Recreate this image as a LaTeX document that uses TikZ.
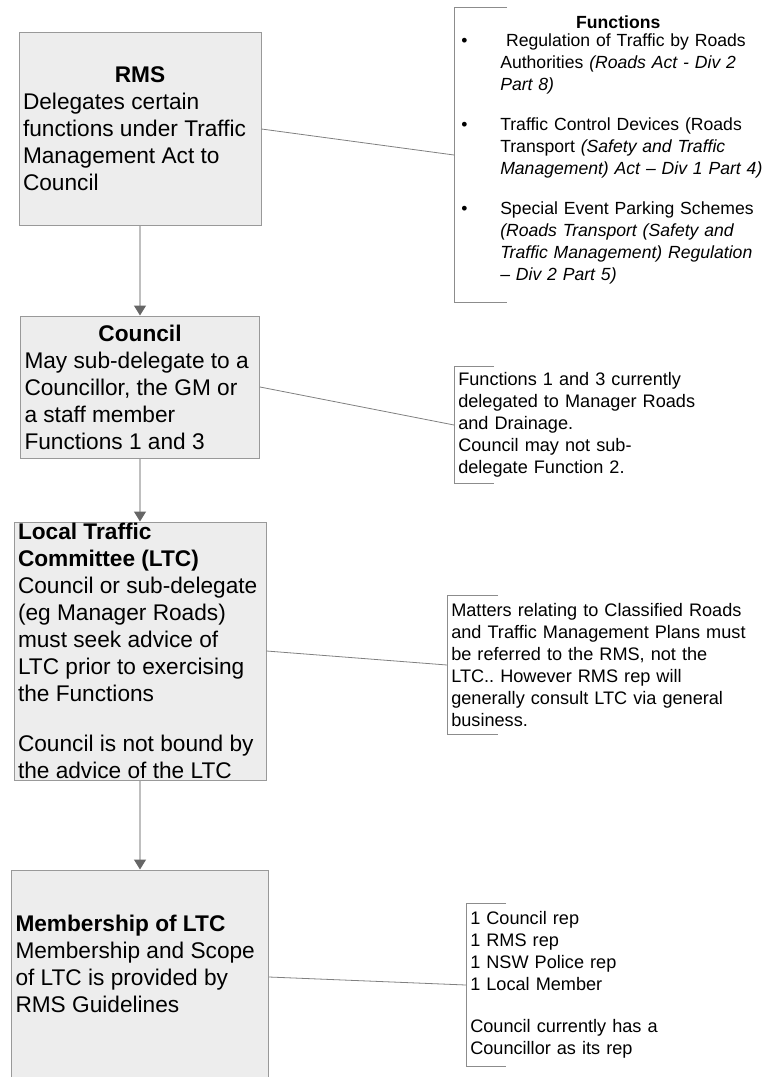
\documentclass[tikz,border=0pt]{standalone}
\usepackage{fontspec}
\setmainfont{Liberation Sans}
\usepackage{tikz}
\usetikzlibrary{arrows.meta, positioning}
\frenchspacing

\newcommand{\boxbody}[3]{\parbox[c][#1][c]{#2}{\fontsize{17pt}{20.25pt}\selectfont\raggedright #3}}

\begin{document}
\begin{tikzpicture}[
    x=0.75pt, y=-0.75pt,
    node distance = 67.5pt,
    box/.style = {rectangle, draw=black!40, line width=0.75pt, fill=black!7,
                  inner xsep=3pt, inner ysep=0pt},
    note/.style = {rectangle, anchor=west, inner sep=3pt, align=left,
                   font=\fontsize{13.6pt}{16.5pt}\selectfont},
    bracket/.style = {draw=black!45, line width=0.75pt},
    link/.style = {draw=black!50, line width=0.6pt},
    arrow/.style = {-{Triangle[width=9pt, length=7.5pt, color=black!60]},
                    draw=black!25, line width=1pt}
]
\useasboundingbox (0,0) rectangle (768,1077);
\clip (0,0) rectangle (768,1077);

% RMS
\node[box] (rms) at (140,129) {\boxbody{144pt}{175.5pt}{%
    {\centering\textbf{RMS}\par}
    Delegates certain\\functions under Traffic\\Management Act to\\Council}};

% Council
\node[box, below=of rms] (council) {\boxbody{106.5pt}{173.25pt}{%
    {\centering\textbf{Council}\par}
    May sub-delegate to a\\Councillor, the GM or\\a staff member\\Functions 1 and 3}};

% Local Traffic Committee
\node[box, below=47.25pt of council] (ltc) {\boxbody{193.5pt}{183pt}{%
    \textbf{Local Traffic\\Committee (LTC)}\\
    Council or sub-delegate\\(eg Manager Roads)\\must seek advice of\\LTC prior to exercising\\the Functions\\[17pt]
    Council is not bound by\\the advice of the LTC}};

% Membership
\node[box, below=66.75pt of ltc] (members) {\boxbody{160.5pt}{186.75pt}{%
    \textbf{Membership of LTC}\\
    Membership and Scope\\of LTC is provided by\\RMS Guidelines\\\mbox{}}};

% Notes
\node[note, text width=240pt, minimum height=220.5pt,
      font=\fontsize{13.2pt}{16.5pt}\selectfont] (functions) at (454,155) {%
    {\centering\textbf{Functions}\par}
    \vspace{-3pt}
    \hangindent=31.5pt\hangafter=1\noindent\makebox[31.5pt][l]{\hspace{2.25pt}\textbullet}%
    \ Regulation of Traffic by Roads\newline Authorities \textit{(Roads Act - Div 2}\newline \textit{Part 8)}\par
    \vspace{13.5pt}
    \hangindent=31.5pt\hangafter=1\noindent\makebox[31.5pt][l]{\hspace{2.25pt}\textbullet}%
    Traffic Control Devices (Roads\newline Transport \textit{(Safety and Traffic}\newline \textit{Management) Act – Div 1 Part 4)}\par
    \vspace{13.5pt}
    \hangindent=31.5pt\hangafter=1\noindent\makebox[31.5pt][l]{\hspace{2.25pt}\textbullet}%
    Special Event Parking Schemes\newline \textit{(Roads Transport (Safety and}\newline \textit{Traffic Management) Regulation}\newline \textit{– Div 2 Part 5)}\par
    \vspace{8pt}\hrule height 0pt};

\node[note, text width=200pt, minimum height=87pt] (delegnote) at (454,425)
    {Functions 1 and 3 currently\\delegated to Manager Roads\\and Drainage.\\Council may not sub-\\delegate Function 2.};

\node[note, text width=230pt, minimum height=104.25pt] (roadsnote) at (447,665)
    {Matters relating to Classified Roads\\and Traffic Management Plans must\\be referred to the RMS, not the\\LTC.. However RMS rep will\\generally consult LTC via general\\business.};

\node[note, text width=200pt, minimum height=121.5pt] (membnote) at (466,985)
    {1 Council rep\\1 RMS rep\\1 NSW Police rep\\1 Local Member\\[15pt]Council currently has a\\Councillor as its rep};

% Brackets
\foreach \n/\t in {functions/53, delegnote/40, roadsnote/51, membnote/40}
    \draw[bracket] ([xshift=\t*0.75pt]\n.north west) -- (\n.north west)
        -- (\n.south west) -- ([xshift=\t*0.75pt]\n.south west);

% Arrows
\draw[arrow] (rms) -- (council);
\draw[arrow] (council) -- (ltc);
\draw[arrow] (ltc) -- (members);

% Links to notes
\draw[link] (rms.east) -- (functions.west);
\draw[link] (council.east) -- (delegnote.west);
\draw[link] (ltc.east) -- (roadsnote.west);
\draw[link] (members.east) -- (membnote.west);

\end{tikzpicture}
\end{document}
